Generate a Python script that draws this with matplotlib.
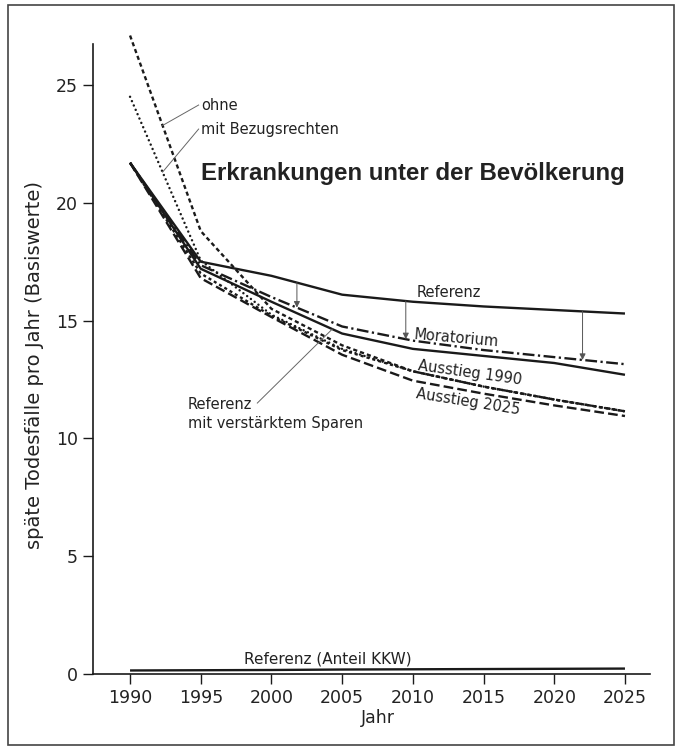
import numpy as np
import matplotlib
matplotlib.use("Agg")
import matplotlib.pyplot as plt
from matplotlib.patches import Rectangle

plt.rcParams['font.family'] = ['DejaVu Sans']
plt.rcParams['lines.scale_dashes'] = False

years = [1990, 1995, 2000, 2005, 2010, 2015, 2020, 2025]
referenz = [21.7, 17.5, 16.9, 16.1, 15.8, 15.6, 15.45, 15.3]
sparen = [21.7, 17.2, 15.8, 14.45, 13.8, 13.5, 13.2, 12.7]
moratorium = [21.7, 17.35, 16.0, 14.75, 14.15, 13.75, 13.45, 13.15]
ausstieg_1990 = [21.7, 17.0, 15.2, 13.75, 12.85, 12.2, 11.65, 11.15]
ausstieg_2025 = [21.7, 16.8, 15.15, 13.55, 12.45, 11.9, 11.4, 10.95]
ohne = [27.1, 18.8, 15.5, 13.95, 12.85, 12.2, 11.65, 11.15]
mit_bezug = [24.5, 17.55, 15.25, 13.8, 12.85, 12.2, 11.65, 11.15]
anteil_kkw = [0.15, 0.16, 0.17, 0.19, 0.2, 0.21, 0.22, 0.23]
arrow_years = [2001.8, 2009.5, 2022.0]

xticks = [1990, 1995, 2000, 2005, 2010, 2015, 2020, 2025]
yticks = [0, 5, 10, 15, 20, 25]

fig = plt.figure(figsize=(6.8, 7.51), dpi=100)
ax = fig.add_axes([93/680, 1-674/751, (650-93)/680, (674-44)/751])

col = '#1a1a1a'
lw = 1.7
ax.plot(years, referenz, color=col, lw=lw, solid_capstyle='butt')
ax.plot(years, sparen, color=col, lw=lw, solid_capstyle='butt')
ax.plot(years, moratorium, color=col, lw=lw, linestyle=(0, (8.5, 2.5, 1.6, 2.5)))
ax.plot(years, ausstieg_2025, color=col, lw=lw, linestyle=(0, (7, 3)))
ax.plot(years, ausstieg_1990, color=col, lw=lw, linestyle=(0, (2.2, 2.2)))
ax.plot(years, ohne, color=col, lw=lw, linestyle=(0, (3.0, 2.2)), clip_on=False)
ax.plot(years, mit_bezug, color=col, lw=1.8, linestyle=(0, (0.01, 3.4)),
        dash_capstyle='round', clip_on=False)
ax.plot(years, anteil_kkw, color=col, lw=lw, solid_capstyle='butt')

# arrows Referenz -> Moratorium
for yr in arrow_years:
    y0 = np.interp(yr, years, referenz)
    y1 = np.interp(yr, years, moratorium)
    ax.annotate('', xy=(yr, y1), xytext=(yr, y0),
                arrowprops=dict(arrowstyle='-|>', lw=0.7, color='#555555',
                                mutation_scale=9, shrinkA=0, shrinkB=0))

lead = dict(color='#666666', lw=0.7)
xo = 1992.3
ax.plot([xo, 1994.85], [np.interp(xo, years, ohne), 24.15], **lead, clip_on=False)
ax.plot([xo, 1994.85], [np.interp(xo, years, mit_bezug), 23.13], **lead)
xs = 2004.3
ax.plot([1999.0, xs], [11.5, np.interp(xs, years, sparen)], **lead)

fs = 10.5
tc = '#222222'
ax.text(1995.0, 24.15, 'ohne', fontsize=fs, color=tc, va='center', ha='left')
ax.text(1995.0, 23.13, 'mit Bezugsrechten', fontsize=fs, color=tc, va='center', ha='left')
ax.text(1995.0, 21.25, 'Erkrankungen unter der Bevölkerung', fontsize=17.3,
        fontweight='bold', color=tc, va='center', ha='left', family='Liberation Sans')
ax.text(2010.3, 16.19, 'Referenz', fontsize=fs, color=tc, va='center', ha='left')
ax.text(2013.1, 14.26, 'Moratorium', fontsize=fs, color=tc, va='center', ha='center',
        rotation=-5, rotation_mode='anchor')
ax.text(2014.05, 12.78, 'Ausstieg 1990', fontsize=fs, color=tc, va='center', ha='center',
        rotation=-8, rotation_mode='anchor')
ax.text(2013.9, 11.55, 'Ausstieg 2025', fontsize=fs, color=tc, va='center', ha='center',
        rotation=-9, rotation_mode='anchor')
ax.text(1994.1, 11.42, 'Referenz', fontsize=fs, color=tc, va='center', ha='left')
ax.text(1994.1, 10.63, 'mit verstärktem Sparen', fontsize=fs, color=tc, va='center', ha='left')
ax.text(2004.0, 0.64, 'Referenz (Anteil KKW)', fontsize=11, color=tc, va='center', ha='center')

ax.set_xlim(1987.38, 2026.77)
ax.set_ylim(0, 26.74)
ax.set_xticks(xticks)
ax.set_yticks(yticks)
ax.tick_params(direction='out', length=7, width=1.0, colors=col, labelsize=12.5,
               labelcolor=tc, pad=4)
for s in ['top', 'right']:
    ax.spines[s].set_visible(False)
for s in ['left', 'bottom']:
    ax.spines[s].set_linewidth(1.2)
    ax.spines[s].set_color(col)
ax.patch.set_alpha(0)

fig.text(378/680, 1-718/751, 'Jahr', fontsize=12.5, color=tc, ha='center', va='center')
fig.text(35/680, 1-365/751, 'späte Todesfälle pro Jahr (Basiswerte)', fontsize=14,
         color=tc, ha='center', va='center', rotation=90)

fig.patches.append(Rectangle((8/680, 1-745/751), (674-8)/680, (745-5)/751,
                             transform=fig.transFigure, fill=False,
                             edgecolor='#444444', lw=1.2))

fig.savefig('out.png', dpi=100)
